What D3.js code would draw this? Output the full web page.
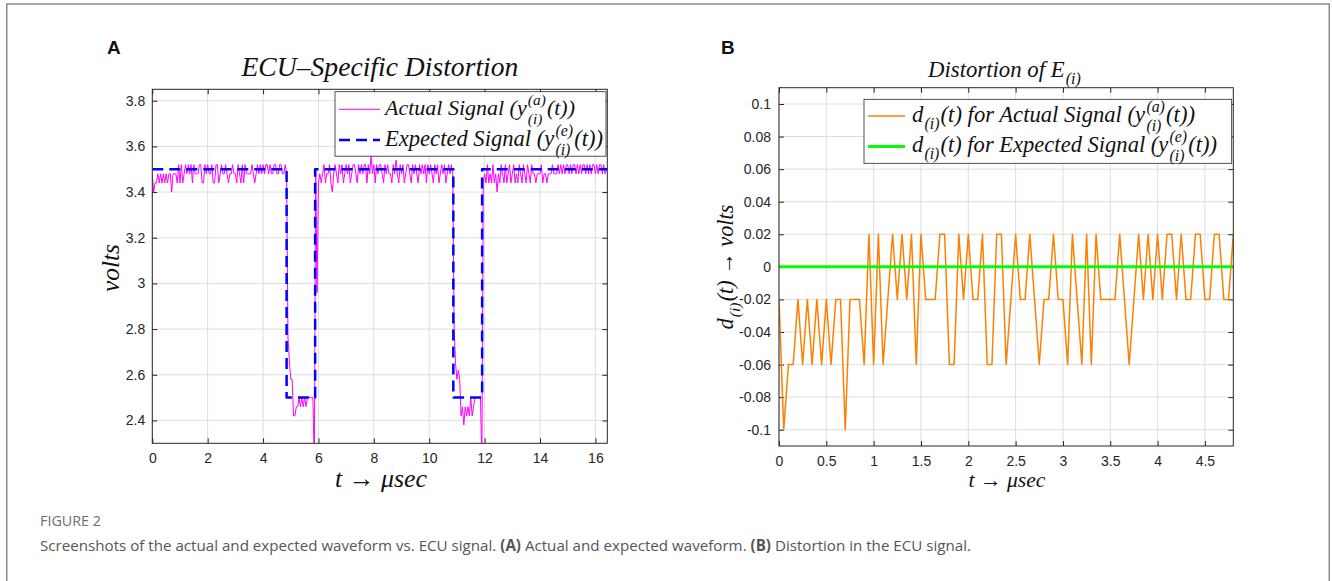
<!DOCTYPE html>
<html>
<head>
<meta charset="utf-8">
<script src="https://cdn.jsdelivr.net/npm/d3@7"></script>
<style>
  body { margin: 0; background: #fff; }
</style>
</head>
<body>
<svg id="fig" width="1332" height="581"></svg>
<script>
// ---- data ----
const sampleStep = 0.05;   // usec between samples

// panel B: distortion of the actual signal, t = 0 .. 4.8
const distActual = [
  -0.02,-0.1,-0.06,-0.06,-0.02,-0.06,-0.02,-0.06,-0.02,-0.06,
  -0.02,-0.06,-0.02,-0.02,-0.1,-0.02,-0.02,-0.02,-0.06,0.02,
  -0.06,0.02,-0.06,-0.02,0.02,-0.02,0.02,-0.02,0.02,-0.06,
  0.02,-0.02,-0.02,-0.02,0.02,0.02,-0.06,-0.06,0.02,-0.02,
  0.02,-0.02,-0.02,0.02,-0.06,-0.06,0.02,0.02,-0.06,-0.02,
  0.02,-0.02,-0.02,0.02,-0.02,-0.06,-0.02,-0.02,0.02,-0.02,
  -0.02,-0.06,0.02,-0.02,-0.06,0.02,-0.06,0.02,-0.02,-0.02,
  -0.02,-0.02,0.02,-0.02,-0.06,-0.02,0.02,-0.02,0.02,-0.02,
  0.02,-0.02,0.02,0.02,-0.02,0.02,-0.02,-0.02,0.02,0.02,
  -0.02,-0.02,0.02,0.02,-0.02,-0.02,0.02
];
const distExpectedT = [0, 4.8];
const distExpectedV = [0, 0];

// panel A: actual signal in volts, pieces after the first high part
const edgeFirst = [3.48];                                   // t = 4.85
const lowPulse1 = [2.76,2.66,2.58,2.58,2.42,2.42,2.46,2.46,2.5,2.46,
                   2.5,2.46,2.5,2.46,2.5,2.5,2.5,2.5,2.5,2.2];      // t = 4.9 .. 5.85
const highPart2 = [
  3.50,2.96,3.44,3.48,3.44,3.48,3.52,3.44,3.48,3.48,
  3.52,3.44,3.40,3.48,3.52,3.48,3.44,3.52,3.48,3.52,
  3.44,3.48,3.52,3.48,3.52,3.44,3.48,3.52,3.52,3.48,
  3.44,3.52,3.48,3.52,3.48,3.52,3.52,3.44,3.52,3.48,
  3.56,3.48,3.52,3.44,3.52,3.48,3.52,3.52,3.48,3.44,
  3.52,3.48,3.52,3.48,3.48,3.44,3.52,3.48,3.54,3.48,
  3.44,3.52,3.48,3.52,3.44,3.48,3.52,3.52,3.48,3.44,
  3.52,3.48,3.52,3.48,3.44,3.52,3.48,3.52,3.48,3.52,
  3.44,3.52,3.48,3.52,3.48,3.44,3.52,3.48,3.52,3.44,
  3.48,3.52,3.48,3.52,3.44,3.48,3.52,3.48,3.52,3.48
];                                                          // t = 5.9 .. 10.85
const lowPulse2 = [2.8,2.65,2.58,2.62,2.58,2.42,2.46,2.38,2.46,2.42,
                   2.46,2.42,2.5,2.42,2.46,2.5,2.5,2.5,2.5,2.5,2.2]; // t = 10.9 .. 11.9
const highPart3 = [
  3.44,3.48,3.44,3.52,3.44,3.48,3.44,3.52,3.44,3.48,
  3.40,3.48,3.44,3.52,3.48,3.44,3.52,3.44,3.48,3.52,
  3.44,3.48,3.52,3.44,3.48,3.44,3.52,3.48,3.44,3.52,
  3.48,3.44,3.52,3.48,3.44,3.52,3.48,3.48,3.44,3.48,
  3.48,3.48,3.52,3.44,3.48,3.48,3.44,3.48,3.48,3.48,
  3.52,3.48,3.48,3.48,3.52,3.48,3.52,3.48,3.52,3.48,
  3.52,3.52,3.48,3.52,3.48,3.52,3.52,3.48,3.52,3.48,
  3.52,3.48,3.52,3.52,3.48,3.52,3.48,3.52,3.48,3.52,
  3.52,3.48,3.52,3.48,3.52,3.52,3.48,3.52,3.48,3.50,3.50
];                                                          // t = 11.95 .. 16.45

// expected square wave (stairs)
const expectedT = [0, 4.85, 4.85, 5.88, 5.88, 10.87, 10.87, 11.91, 11.91, 16.45];
const expectedV = [3.5, 3.5, 2.5, 2.5, 3.5, 3.5, 2.5, 2.5, 3.5, 3.5];

// ticks
const aXTicks = [0, 2, 4, 6, 8, 10, 12, 14, 16];
const aYTicks = [2.4, 2.6, 2.8, 3, 3.2, 3.4, 3.6, 3.8];
const bXTicks = [0, 0.5, 1, 1.5, 2, 2.5, 3, 3.5, 4, 4.5];
const bYTicks = [-0.1, -0.08, -0.06, -0.04, -0.02, 0, 0.02, 0.04, 0.06, 0.08, 0.1];

// ---- build series ----
const firstHigh = distActual.map(d => +(3.5 + d).toFixed(2));
const actualV = [...firstHigh, ...edgeFirst, ...lowPulse1, ...highPart2, ...lowPulse2, ...highPart3];
const actualA = actualV.map((v, i) => ({t: i * sampleStep, v: v}));
const expectedA = expectedT.map((t, i) => ({t: t, v: expectedV[i]}));
const distB = distActual.map((v, i) => ({t: i * sampleStep, v: v}));
const distE = distExpectedT.map((t, i) => ({t: t, v: distExpectedV[i]}));

const SERIF = "'Liberation Serif','DejaVu Serif',serif";
const SANS = "'Liberation Sans',Arial,Helvetica,sans-serif";
const svg = d3.select("#fig");

// page frame
svg.append("rect")
  .attr("x", 6.75).attr("y", 4).attr("width", 1322.5).attr("height", 650)
  .attr("fill", "none").attr("stroke", "#8a8a8a").attr("stroke-width", 1.5);

// italic math-like text; parts are strings or {sup, sub}; scaled to fit a width
function mathText(parent, parts, o) {
  const base = 20;
  const g = parent.append("g");
  const inner = g.append("g");
  let cx = 0;
  const add = (str, x, y, fs) => inner.append("text")
    .attr("x", x).attr("y", y)
    .attr("font-family", SERIF).attr("font-size", fs)
    .attr("font-style", "italic").attr("fill", "#111").text(str);
  parts.forEach(p => {
    if (typeof p === "string") {
      cx += add(p, cx, 0, base).node().getComputedTextLength();
    } else {
      let w = 0;
      const fs = base * 0.7;
      if (p.sup) w = Math.max(w, add(p.sup, cx + 1, -base * 0.45, fs).node().getComputedTextLength());
      if (p.sub) w = Math.max(w, add(p.sub, cx + 1, p.sup ? base * 0.4 : base * 0.3, fs).node().getComputedTextLength());
      cx += w + 2;
    }
  });
  const s = o.width / cx;
  const shift = o.anchor === "middle" ? -o.width / 2 : 0;
  g.attr("transform", `translate(${o.x},${o.y}) rotate(${o.rotate || 0}) translate(${shift},0) scale(${s})`);
  return g;
}

function drawPanel(cfg) {
  const x = d3.scaleLinear().domain(cfg.xDomain).range([cfg.left, cfg.right]);
  const y = d3.scaleLinear().domain(cfg.yDomain).range([cfg.bottom, cfg.top]);
  const g = svg.append("g");

  // grid
  g.append("g").selectAll("line").data(cfg.xTicks).join("line")
    .attr("x1", d => x(d)).attr("x2", d => x(d))
    .attr("y1", cfg.top).attr("y2", cfg.bottom)
    .attr("stroke", "#dedede").attr("stroke-width", 1);
  g.append("g").selectAll("line").data(cfg.yTicks).join("line")
    .attr("x1", cfg.left).attr("x2", cfg.right)
    .attr("y1", d => y(d)).attr("y2", d => y(d))
    .attr("stroke", "#dedede").attr("stroke-width", 1);

  // axes, ticks pointing inward on every side
  const styleAxis = sel => {
    sel.select(".domain").remove();
    sel.selectAll(".tick line").attr("stroke", "#262626");
    sel.selectAll("text").attr("fill", "#262626").attr("font-family", SANS).attr("font-size", 14);
  };
  g.append("g").attr("transform", `translate(0,${cfg.bottom})`)
    .call(d3.axisBottom(x).tickValues(cfg.xTicks).tickFormat(cfg.fmtX).tickSizeInner(-5).tickSizeOuter(0).tickPadding(10))
    .call(styleAxis);
  g.append("g").attr("transform", `translate(0,${cfg.top})`)
    .call(d3.axisTop(x).tickValues(cfg.xTicks).tickFormat("").tickSizeInner(-5).tickSizeOuter(0))
    .call(styleAxis);
  g.append("g").attr("transform", `translate(${cfg.left},0)`)
    .call(d3.axisLeft(y).tickValues(cfg.yTicks).tickFormat(cfg.fmtY).tickSizeInner(-5).tickSizeOuter(0).tickPadding(cfg.yPad))
    .call(styleAxis);
  g.append("g").attr("transform", `translate(${cfg.right},0)`)
    .call(d3.axisRight(y).tickValues(cfg.yTicks).tickFormat("").tickSizeInner(-5).tickSizeOuter(0))
    .call(styleAxis);

  // clip
  const clipId = "clip" + cfg.name;
  svg.append("clipPath").attr("id", clipId).append("rect")
    .attr("x", cfg.left).attr("y", cfg.top)
    .attr("width", cfg.right - cfg.left).attr("height", cfg.bottom - cfg.top);

  const line = d3.line().x(d => x(d.t)).y(d => y(d.v));
  const plot = g.append("g").attr("clip-path", `url(#${clipId})`);
  cfg.series.forEach(s => {
    plot.append("path").datum(s.data)
      .attr("d", line).attr("fill", "none")
      .attr("stroke", s.color).attr("stroke-width", s.width)
      .attr("stroke-dasharray", s.dash || null)
      .attr("stroke-linejoin", "round");
  });

  // box
  g.append("rect")
    .attr("x", cfg.left).attr("y", cfg.top)
    .attr("width", cfg.right - cfg.left).attr("height", cfg.bottom - cfg.top)
    .attr("fill", "none").attr("stroke", "#262626").attr("stroke-width", 1);

  // legend
  const L = cfg.legend;
  g.append("rect").attr("x", L.x).attr("y", L.y).attr("width", L.w).attr("height", L.h)
    .attr("fill", "#fff").attr("stroke", "#262626").attr("stroke-width", 0.8);
  L.rows.forEach((r, i) => {
    const s = cfg.series[i];
    g.append("line")
      .attr("x1", L.lineX1).attr("x2", L.lineX2).attr("y1", r.lineY).attr("y2", r.lineY)
      .attr("stroke", s.color).attr("stroke-width", s.width)
      .attr("stroke-dasharray", s.dash || null);
    mathText(g, r.parts, {x: L.textX, y: r.baseline, width: r.width});
  });
  return g;
}

// ---- panel A ----
drawPanel({
  name: "A",
  left: 152.3, right: 607.3, top: 89.3, bottom: 443.3,
  xDomain: [0, 16.43], yDomain: [2.3, 3.85],
  xTicks: aXTicks, yTicks: aYTicks, yPad: 7,
  fmtX: d => String(d), fmtY: d => String(+d.toFixed(1)),
  series: [
    {data: actualA, color: "#ff00ff", width: 1},
    {data: expectedA, color: "#0000ff", width: 2.5, dash: "11,6"}
  ],
  legend: {
    x: 335, y: 91.7, w: 271, h: 64.5, lineX1: 339, lineX2: 380, textX: 385,
    rows: [
      {lineY: 109.3, baseline: 115, width: 190,
       parts: ["Actual Signal (y", {sup: "(a)", sub: "(i)"}, "(t))"]},
      {lineY: 140, baseline: 146, width: 218,
       parts: ["Expected Signal (y", {sup: "(e)", sub: "(i)"}, "(t))"]}
    ]
  }
});

// ---- panel B ----
drawPanel({
  name: "B",
  left: 779, right: 1233.3, top: 87.7, bottom: 446,
  xDomain: [0, 4.8], yDomain: [-0.11, 0.11],
  xTicks: bXTicks, yTicks: bYTicks, yPad: 8,
  fmtX: d => String(d), fmtY: d => String(+d.toFixed(2)),
  series: [
    {data: distB, color: "#ff8000", width: 1.5},
    {data: distE, color: "#00ff00", width: 3}
  ],
  legend: {
    x: 864, y: 99.3, w: 367.7, h: 64, lineX1: 868, lineX2: 905, textX: 912,
    rows: [
      {lineY: 116, baseline: 122, width: 283,
       parts: ["d", {sub: "(i)"}, "(t) for Actual Signal (y", {sup: "(a)", sub: "(i)"}, "(t))"]},
      {lineY: 146.5, baseline: 152, width: 305,
       parts: ["d", {sub: "(i)"}, "(t) for Expected Signal (y", {sup: "(e)", sub: "(i)"}, "(t))"]}
    ]
  }
});

// titles and axis labels
mathText(svg, ["ECU\u2013Specific Distortion"], {x: 380, y: 76, width: 277, anchor: "middle"});
mathText(svg, ["Distortion of E", {sub: "(i)"}], {x: 928, y: 77, width: 154});
mathText(svg, ["t \u2192 \u03bcsec"], {x: 381, y: 487, width: 92, anchor: "middle"});
mathText(svg, ["t \u2192 \u03bcsec"], {x: 1007, y: 487, width: 77, anchor: "middle"});
mathText(svg, ["volts"], {x: 119, y: 268, width: 48, anchor: "middle", rotate: -90});
mathText(svg, ["d", {sub: "(i)"}, "(t) \u2192 volts"], {x: 733, y: 267, width: 125, anchor: "middle", rotate: -90});

// panel letters
svg.append("text").attr("x", 107).attr("y", 54).text("A")
  .attr("font-family", SANS).attr("font-weight", "bold").attr("font-size", 19).attr("fill", "#111");
svg.append("text").attr("x", 721).attr("y", 54).text("B")
  .attr("font-family", SANS).attr("font-weight", "bold").attr("font-size", 19).attr("fill", "#111");

// caption
function fitText(sel, target) {
  const w = sel.node().getComputedTextLength();
  const fs = +sel.attr("font-size");
  sel.attr("font-size", fs * target / w);
}
const cap1 = svg.append("text").attr("x", 40).attr("y", 526)
  .attr("font-family", "'Open Sans',sans-serif").attr("font-size", 12).attr("fill", "#6e6e6e")
  .text("FIGURE 2");
fitText(cap1, 61);
const cap2 = svg.append("text").attr("x", 40).attr("y", 551)
  .attr("font-family", "'Open Sans',sans-serif").attr("font-size", 14).attr("fill", "#555");
cap2.append("tspan").text("Screenshots of the actual and expected waveform vs. ECU signal. ");
cap2.append("tspan").attr("font-weight", "bold").text("(A)");
cap2.append("tspan").text(" Actual and expected waveform. ");
cap2.append("tspan").attr("font-weight", "bold").text("(B)");
cap2.append("tspan").text(" Distortion in the ECU signal.");
fitText(cap2, 932);
</script>
</body>
</html>
